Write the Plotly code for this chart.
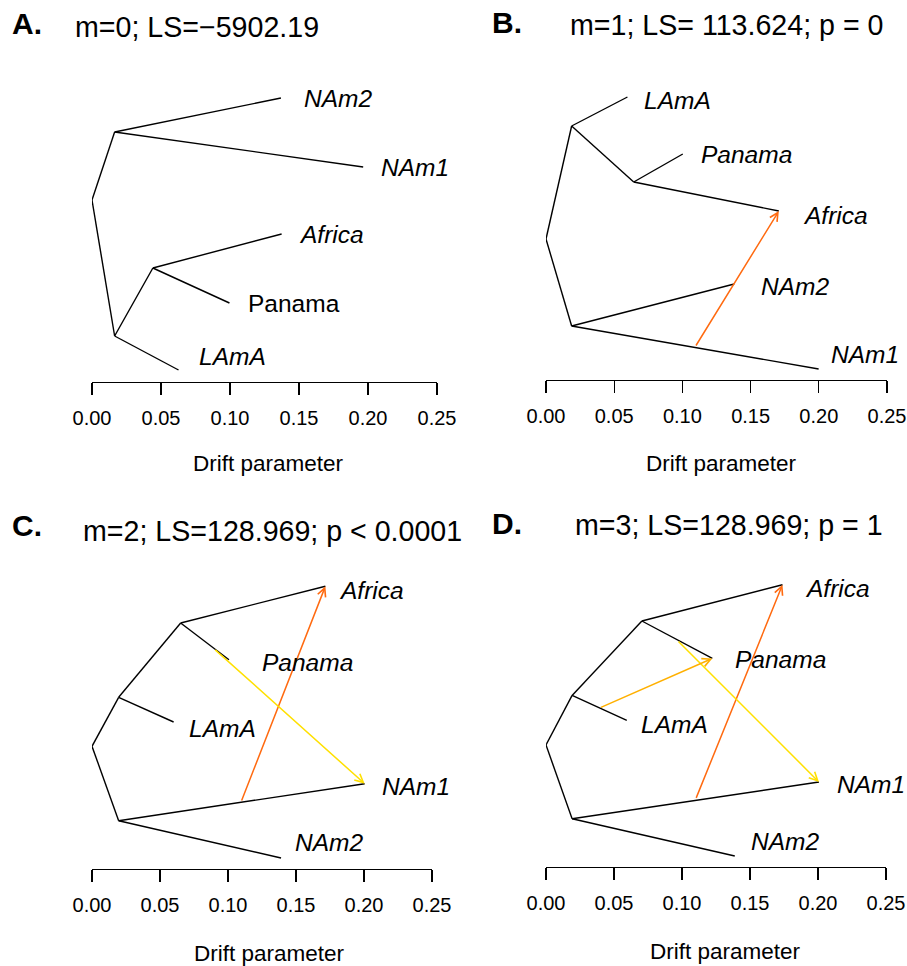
import plotly.graph_objects as go

FIG_W, FIG_H = 907, 966
FONT = "Liberation Sans, Arial, Helvetica, sans-serif"

# ---------------- data ----------------
tick_vals = [0.0, 0.05, 0.10, 0.15, 0.20, 0.25]
tick_text = ["0.00", "0.05", "0.10", "0.15", "0.20", "0.25"]
axis_title = "Drift parameter"

panel_letters = ["A.", "B.", "C.", "D."]
panel_titles = ["m=0; LS=\u22125902.19",
                "m=1; LS= 113.624; p = 0",
                "m=2; LS=128.969; p < 0.0001",
                "m=3; LS=128.969; p = 1"]

# Panel A  (drift = x, ypos = vertical ordinate of the tree layout)
A_nodes = ["root", "n1", "NAm2", "NAm1", "n2", "n3", "Africa", "Panama", "LAmA"]
A_drift = [0.0, 0.0164, 0.1369, 0.1965, 0.0164, 0.0441, 0.1374, 0.0996, 0.0627]
A_ypos = [182, 250, 284, 215, 46, 114, 148, 79, 12]
A_edges = [("root", "n1"), ("root", "n2"), ("n1", "NAm2"), ("n1", "NAm1"),
           ("n2", "LAmA"), ("n2", "n3"), ("n3", "Africa"), ("n3", "Panama")]
A_mig_from = []
A_mig_to = []

# Panel B
B_nodes = ["root", "t1", "LAmA", "t2", "Panama", "Africa", "b1", "NAm2", "NAm1"]
B_drift = [0.0, 0.0188, 0.0597, 0.0643, 0.1003, 0.1707, 0.0188, 0.1380, 0.1999]
B_ypos = [141, 254, 283, 198, 226, 169, 54, 96, 11]
B_edges = [("root", "t1"), ("root", "b1"), ("t1", "LAmA"), ("t1", "t2"),
           ("t2", "Panama"), ("t2", "Africa"), ("b1", "NAm2"), ("b1", "NAm1")]
B_mig_from = [(0.1093, 33)]
B_mig_to = ["Africa"]

# Panel C
C_nodes = ["root", "l1", "LAmA", "a1", "Africa", "Panama", "n1", "NAm1", "NAm2"]
C_drift = [0.0, 0.0196, 0.0600, 0.0652, 0.1716, 0.1007, 0.0196, 0.2005, 0.1390]
C_ypos = [122.7, 171.7, 147, 246, 282.7, 209.3, 48.3, 85.3, 11]
C_edges = [("root", "l1"), ("root", "n1"), ("l1", "LAmA"), ("l1", "a1"),
           ("a1", "Africa"), ("a1", "Panama"), ("n1", "NAm1"), ("n1", "NAm2")]
C_mig_from = [(0.1096, 67), (0.0895, 220.5)]
C_mig_to = ["Africa", "NAm1"]

# Panel D
D_nodes = ["root", "l1", "LAmA", "a1", "Africa", "Panama", "n1", "NAm1", "NAm2"]
D_drift = [0.0, 0.0192, 0.0594, 0.0705, 0.1739, 0.1223, 0.0192, 0.2007, 0.1388]
D_ypos = [122, 171.6, 146.6, 246, 282.3, 208.6, 48.3, 85, 11]
D_edges = [("root", "l1"), ("root", "n1"), ("l1", "LAmA"), ("l1", "a1"),
           ("a1", "Africa"), ("a1", "Panama"), ("n1", "NAm1"), ("n1", "NAm2")]
D_mig_from = [(0.1100, 67.6), (0.0963, 227), (0.0393, 159)]
D_mig_to = ["Africa", "NAm1", "Panama"]

# ---------------- styles / layout ----------------
MIG_COLORS = {
    "B": ["#FF6A10"],
    "C": ["#FF6A10", "#FFE000"],
    "D": ["#FF6A10", "#FFE000", "#FFB000"],
}
# pixel boxes: left(0.00), right(0.25), axis line y, top y
BOX = {
    "A": (92.0, 437.0, 382.0, 60.0),
    "B": (546.0, 887.0, 380.0, 60.0),
    "C": (92.0, 432.0, 869.0, 540.0),
    "D": (546.0, 886.0, 867.0, 540.0),
}
# label offsets (px) per tip: (xshift, yshift, italic)
LABEL_STYLE = {
    "A": {"NAm2": (21, 0, True), "NAm1": (16, 0, True), "Africa": (15, 0, True),
          "Panama": (17, 0, False), "LAmA": (18, 14, True)},
    "B": {"LAmA": (15, -3, True), "Panama": (16, 0, True), "Africa": (22, -4, True),
          "NAm2": (25, -2, True), "NAm1": (10, 15, True)},
    "C": {"Africa": (12, -4, True), "Panama": (31, -3, True), "LAmA": (13, -6, True),
          "NAm1": (15, -3, True), "NAm2": (12, 16, True)},
    "D": {"Africa": (20, -4, True), "Panama": (21, -1, True), "LAmA": (12, -4, True),
          "NAm1": (16, -2, True), "NAm2": (14, 15, True)},
}
LETTER_POS = [(10, 23), (490, 22), (10, 525), (490, 523)]
TITLE_POS = [(73, 27), (568, 25), (81, 531), (573, 525)]
XTITLE_POS = [(268, 463), (721, 463), (269, 953), (725, 951)]

panels = {
    "A": (A_nodes, A_drift, A_ypos, A_edges, A_mig_from, A_mig_to),
    "B": (B_nodes, B_drift, B_ypos, B_edges, B_mig_from, B_mig_to),
    "C": (C_nodes, C_drift, C_ypos, C_edges, C_mig_from, C_mig_to),
    "D": (D_nodes, D_drift, D_ypos, D_edges, D_mig_from, D_mig_to),
}

fig = go.Figure()
annotations = []
layout_axes = {}

for i, key in enumerate(["A", "B", "C", "D"]):
    nodes, drift, ypos, edges, mfrom, mto = panels[key]
    pos = {n: (x, y) for n, x, y in zip(nodes, drift, ypos)}
    sfx = "" if i == 0 else str(i + 1)
    xr, yr = "x" + sfx, "y" + sfx

    xs, ys = [], []
    for a, b in edges:
        xs += [pos[a][0], pos[b][0], None]
        ys += [pos[a][1], pos[b][1], None]
    fig.add_trace(go.Scatter(x=xs, y=ys, mode="lines", xaxis=xr, yaxis=yr,
                             line=dict(color="black", width=1.4),
                             hoverinfo="skip", showlegend=False))

    # migration arrows
    for (sx, sy), tgt, col in zip(mfrom, mto, MIG_COLORS.get(key, [])):
        tx, ty = pos[tgt]
        annotations.append(dict(x=tx, y=ty, ax=sx, ay=sy, xref=xr, yref=yr,
                                axref=xr, ayref=yr, text="", showarrow=True,
                                arrowhead=5, arrowsize=1.1, arrowwidth=1.5,
                                arrowcolor=col, standoff=0, startstandoff=0))

    # tip labels
    for tip, (dx, dy, ital) in LABEL_STYLE[key].items():
        tx, ty = pos[tip]
        annotations.append(dict(x=tx, y=ty, xref=xr, yref=yr,
                                text=(f"<i>{tip}</i>" if ital else tip),
                                showarrow=False, xanchor="left", yanchor="middle",
                                xshift=dx, yshift=dy,
                                font=dict(family=FONT, size=24.5, color="black")))

    left, right, axis_y, top_y = BOX[key]
    xaxis = dict(domain=[left / FIG_W, right / FIG_W], range=[0, 0.25],
                 anchor=yr, showline=True, linecolor="black", linewidth=1.3,
                 ticks="outside", ticklen=12, tickwidth=1.3, tickcolor="black",
                 tickvals=tick_vals, ticktext=tick_text, showgrid=False,
                 zeroline=False, ticklabelstandoff=6, automargin=False,
                 tickfont=dict(family=FONT, size=20, color="black"),
                 fixedrange=True)
    yaxis = dict(domain=[1 - axis_y / FIG_H, 1 - top_y / FIG_H],
                 range=[0, axis_y - top_y], anchor=xr, visible=False,
                 showgrid=False, zeroline=False, fixedrange=True,
                 automargin=False)
    layout_axes["xaxis" + sfx] = xaxis
    layout_axes["yaxis" + sfx] = yaxis

    lx, ly = LETTER_POS[i]
    annotations.append(dict(x=lx / FIG_W, y=1 - ly / FIG_H, xref="paper", yref="paper",
                            text=f"<b>{panel_letters[i]}</b>", showarrow=False,
                            xanchor="left", yanchor="middle",
                            font=dict(family=FONT, size=30, color="black")))
    tx_, ty_ = TITLE_POS[i]
    annotations.append(dict(x=tx_ / FIG_W, y=1 - ty_ / FIG_H, xref="paper", yref="paper",
                            text=panel_titles[i], showarrow=False,
                            xanchor="left", yanchor="middle",
                            font=dict(family=FONT, size=28.6, color="black")))
    ax_, ay_ = XTITLE_POS[i]
    annotations.append(dict(x=ax_ / FIG_W, y=1 - ay_ / FIG_H, xref="paper", yref="paper",
                            text=axis_title, showarrow=False,
                            xanchor="center", yanchor="middle",
                            font=dict(family=FONT, size=22.5, color="black")))

fig.update_layout(template="none", width=FIG_W, height=FIG_H,
                  margin=dict(l=0, r=0, t=0, b=0, autoexpand=False),
                  font=dict(family=FONT, color="black"),
                  paper_bgcolor="white", plot_bgcolor="white",
                  showlegend=False, annotations=annotations, **layout_axes)

fig.write_html("out.html",
               config={"displayModeBar": False, "staticPlot": True},
               post_script="document.body.style.margin='0px';"
                           "document.body.style.padding='0px';"
                           "document.body.style.overflow='hidden';")
